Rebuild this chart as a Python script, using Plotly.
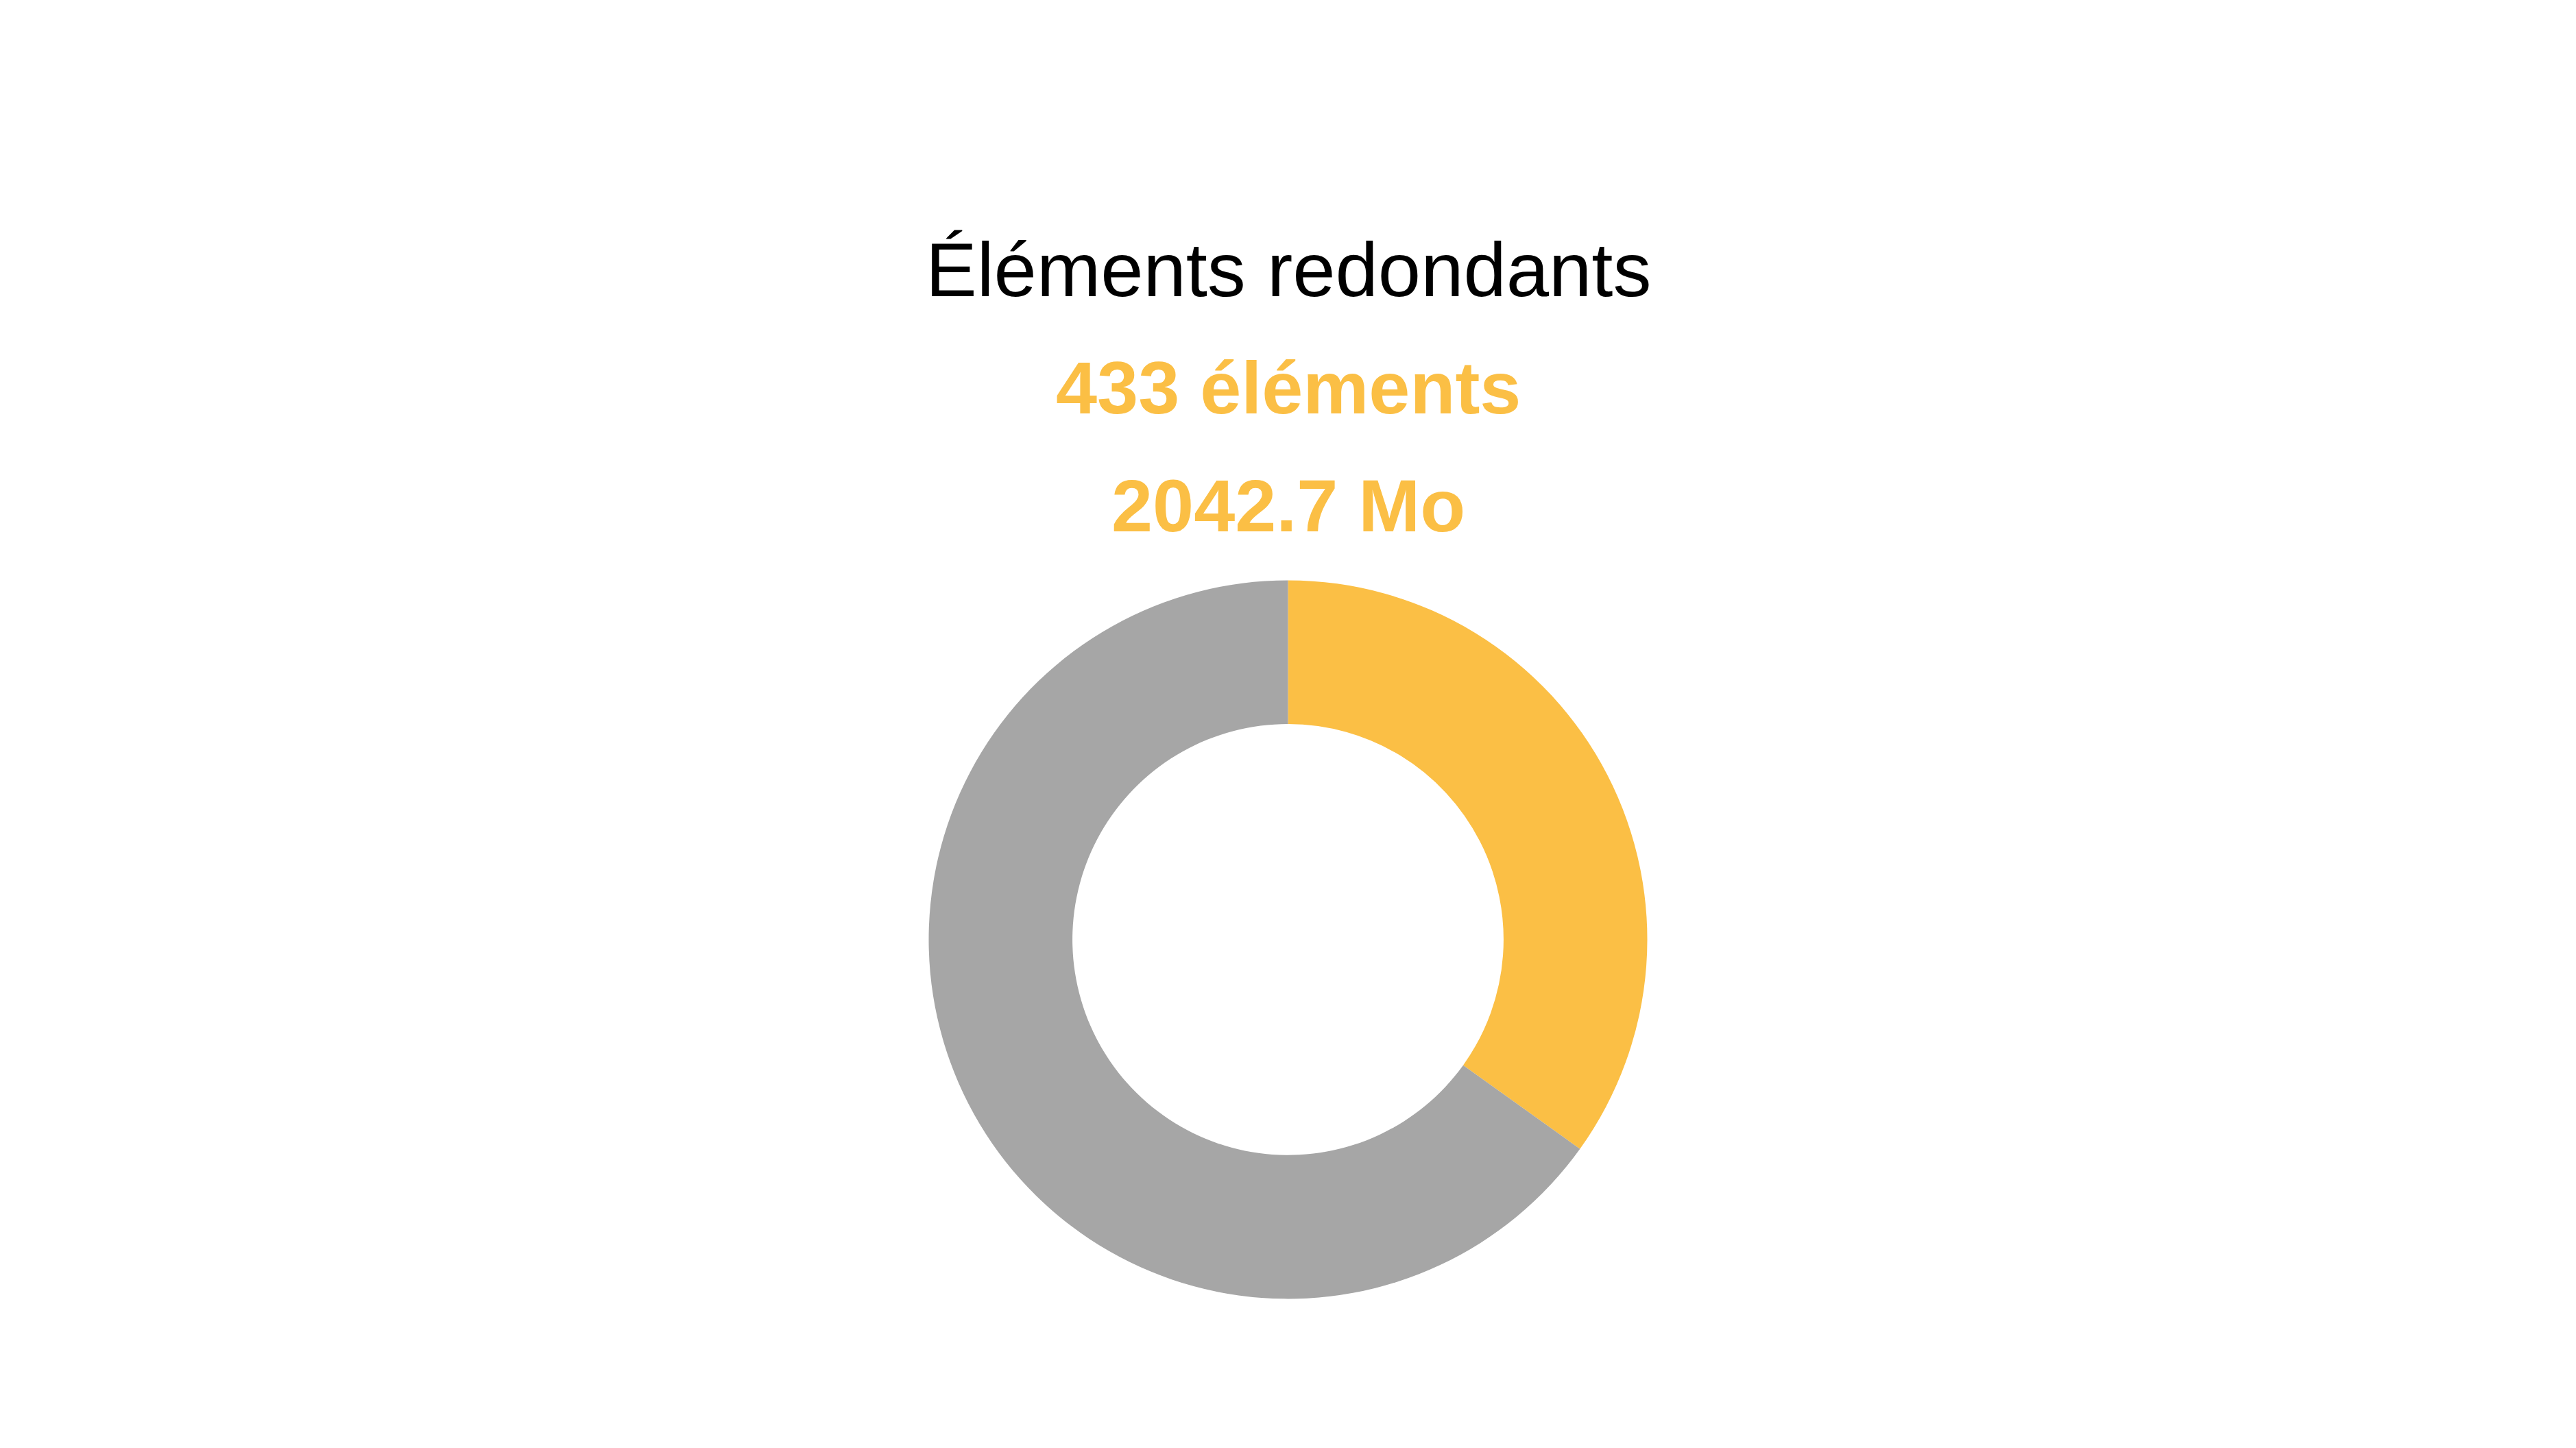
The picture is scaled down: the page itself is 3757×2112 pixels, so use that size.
import plotly.graph_objects as go

labels = ['Redondants', 'Autres']
values = [2042.7, 3810.0]
colors = ['#FBBF45', '#A6A6A6']

title_text = 'Éléments redondants'
count_text = '433 éléments'
size_text = '2042.7 Mo'

fig = go.Figure(go.Pie(
    labels=labels, values=values, hole=0.6, sort=False,
    direction='clockwise', rotation=0,
    marker=dict(colors=colors), textinfo='none', hoverinfo='label+value',
    domain=dict(x=[0, 1], y=[0.1, 0.6]),
))

font = 'Liberation Sans, Arial, sans-serif'
fig.add_annotation(text=title_text, x=0.5, y=0.847, xref='paper', yref='paper',
                   showarrow=False, font=dict(family=font, size=112, color='black'))
fig.add_annotation(text='<b>' + count_text + '</b>', x=0.5, y=0.764, xref='paper', yref='paper',
                   showarrow=False, font=dict(family=font, size=108, color='#FBBF45'))
fig.add_annotation(text='<b>' + size_text + '</b>', x=0.5, y=0.682, xref='paper', yref='paper',
                   showarrow=False, font=dict(family=font, size=108, color='#FBBF45'))

fig.update_layout(showlegend=False, margin=dict(l=0, r=0, t=0, b=0),
                  paper_bgcolor='white', plot_bgcolor='white')
fig.write_html('out.html')
